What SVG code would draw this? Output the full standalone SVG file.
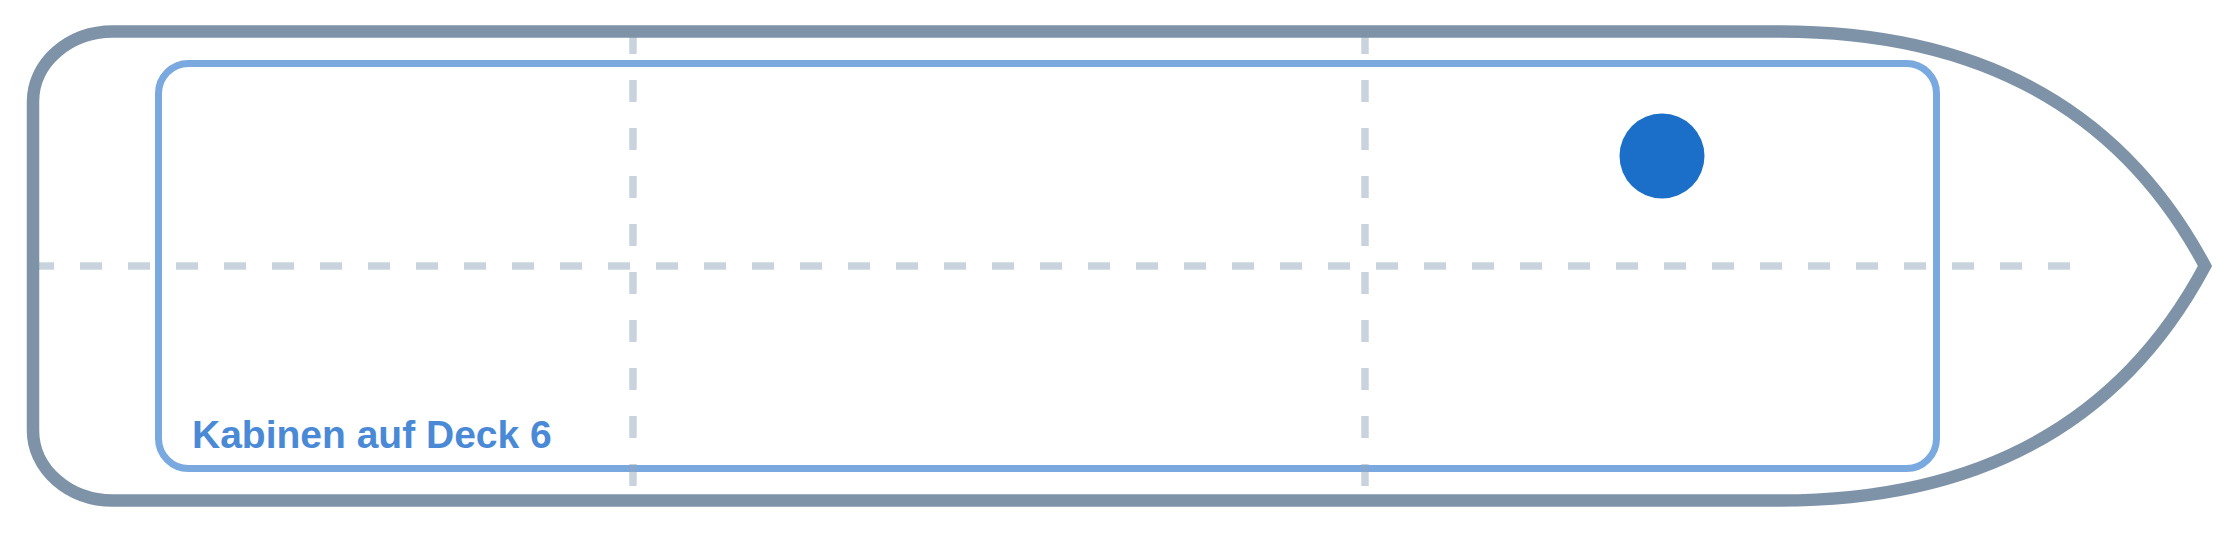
<svg xmlns="http://www.w3.org/2000/svg" width="2240" height="533" viewBox="0 0 2240 533">
  <style>
    .hull { fill: none; stroke: #7f93a8; stroke-width: 12.5; stroke-linejoin: miter; stroke-miterlimit: 10; }
    .cabins { fill: none; stroke: #79a9df; stroke-width: 7; }
    .grid { stroke: #94a8be; stroke-opacity: 0.5; stroke-width: 7.5; stroke-dasharray: 22 26; fill: none; }
    .label { font-family: "Liberation Sans", Arial, sans-serif; font-weight: bold; font-size: 39px; fill: #4a89d6; }
  </style>
  <rect width="2240" height="533" fill="#ffffff"/>
  <g id="cabins">
    <rect class="cabins" x="158.5" y="63.5" width="1778" height="405" rx="30" ry="30"/>
    <text class="label" x="192" y="448">Kabinen auf Deck 6</text>
  </g>
  <g id="grid">
    <line class="grid" x1="32" y1="266" x2="2080" y2="266"/>
    <line class="grid" x1="633" y1="32" x2="633" y2="500"/>
    <line class="grid" x1="1365" y1="32" x2="1365" y2="500"/>
  </g>
  <g id="hull">
    <path class="hull" d="M 113 31.5 L 1780 31.5 Q 2080 31.5 2205 266 Q 2080 500.5 1780 500.5 L 113 500.5 A 80 70 0 0 1 33 430.5 L 33 101.5 A 80 70 0 0 1 113 31.5 Z"/>
  </g>
  <g id="marker">
    <circle cx="1662" cy="156" r="42.5" fill="#1c6fc8"/>
  </g>
</svg>
